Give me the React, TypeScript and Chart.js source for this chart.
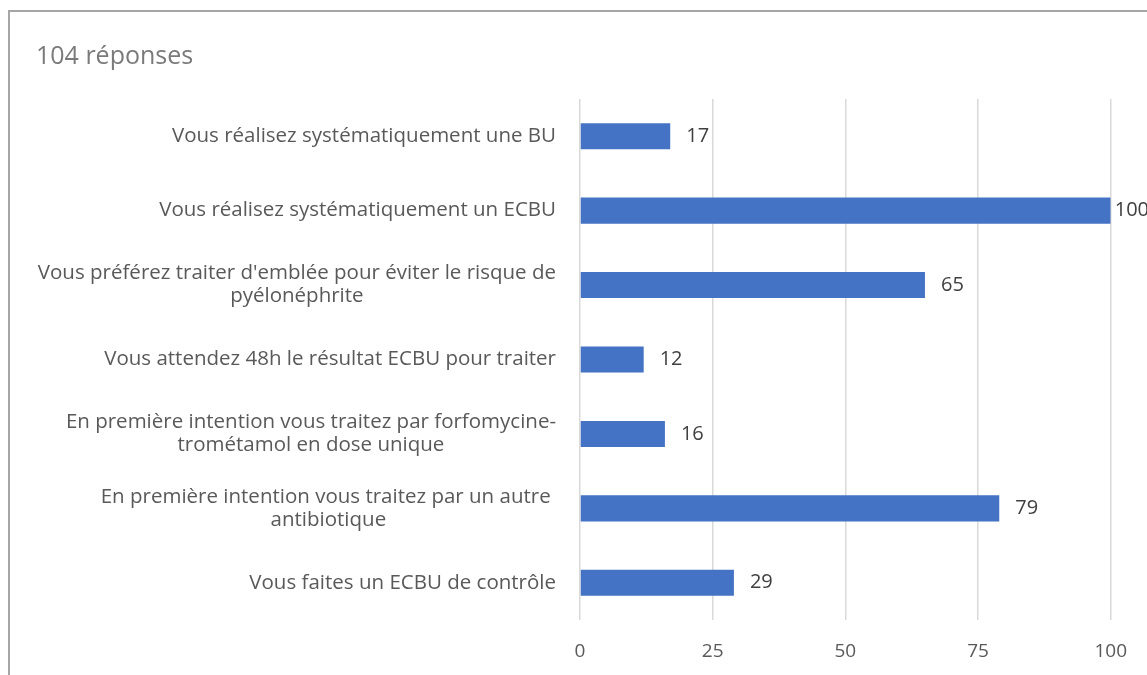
import React, { useEffect, useRef } from "react";
import { Chart, registerables } from "chart.js";

Chart.register(...registerables);

const TITLE = "104 réponses";

const categories: string[][] = [
  ["Vous réalisez systématiquement une BU"],
  ["Vous réalisez systématiquement un ECBU"],
  ["Vous préférez traiter d'emblée pour éviter le risque de", "pyélonéphrite"],
  ["Vous attendez 48h le résultat ECBU pour traiter"],
  ["En première intention vous traitez par forfomycine-", "trométamol en dose unique"],
  ["En première intention vous traitez par un autre ", "antibiotique"],
  ["Vous faites un ECBU de contrôle"],
];

const values: number[] = [17, 100, 65, 12, 16, 79, 29];

const xMin = 0;
const xMax = 100;
const xStep = 25;

const FONT = "'Open Sans', sans-serif";

const labelsPlugin = {
  id: "customLabels",
  afterDraw(chart: any) {
    const ctx = chart.ctx as CanvasRenderingContext2D;
    const yScale = chart.scales.y;
    const xScale = chart.scales.x;
    ctx.save();
    // title
    ctx.font = `25px ${FONT}`;
    ctx.fillStyle = "#7a7a7a";
    ctx.textAlign = "left";
    ctx.textBaseline = "middle";
    ctx.fillText(TITLE, 36, 57);

    // category labels
    ctx.font = `20.5px ${FONT}`;
    ctx.fillStyle = "#595959";
    ctx.textAlign = "center";
    const lineH = 23;
    const rightEdge = xScale.left - 24;
    categories.forEach((lines, i) => {
      const y = yScale.getPixelForValue(i);
      const widest = Math.max(...lines.map((l) => ctx.measureText(l).width));
      const cx = rightEdge - widest / 2;
      lines.forEach((l, j) => {
        ctx.fillText(l, cx, y + (j - (lines.length - 1) / 2) * lineH);
      });
    });

    // value labels
    ctx.font = `20px ${FONT}`;
    ctx.fillStyle = "#404040";
    ctx.textAlign = "left";
    const maxX = xScale.right + 4;
    values.forEach((v, i) => {
      const y = yScale.getPixelForValue(i);
      const x = Math.min(xScale.getPixelForValue(v) + 16, maxX);
      ctx.fillText(String(v), x, y);
    });
    ctx.restore();
  },
};

export default function App() {
  const ref = useRef<HTMLCanvasElement | null>(null);
  useEffect(() => {
    if (!ref.current) return;
    const chart = new Chart(ref.current, {
      type: "bar",
      data: {
        labels: categories.map((c) => c.join(" ")),
        datasets: [
          {
            data: values,
            backgroundColor: "#4472C4",
            borderWidth: 0,
            categoryPercentage: 1,
            barPercentage: 0.35,
          },
        ],
      },
      options: {
        indexAxis: "y",
        animation: false,
        responsive: false,
        maintainAspectRatio: false,
        devicePixelRatio: 1,
        layout: { padding: { left: 580, right: 35, top: 99, bottom: 0 } },
        plugins: {
          legend: { display: false },
          tooltip: { enabled: false },
          title: { display: false },
        },
        scales: {
          x: {
            min: xMin,
            max: xMax,
            ticks: {
              stepSize: xStep,
              color: "#595959",
              font: { family: FONT, size: 19, lineHeight: 1.2 },
              padding: 20,
            },
            grid: { color: "#d9d9d9", lineWidth: 1.5, drawTicks: false },
            border: { display: false },
            afterFit: (scale: any) => {
              scale.height = 55;
            },
          },
          y: {
            display: false,
          },
        },
      },
      plugins: [labelsPlugin],
    });
    return () => chart.destroy();
  }, []);
  return (
    <div style={{ position: "fixed", left: 0, top: 0, width: 1147, height: 675, background: "#fff", overflow: "hidden" }}>
      <div
        style={{
          position: "absolute",
          left: 8,
          top: 10,
          width: 2000,
          height: 2000,
          borderLeft: "2px solid #a6a6a6",
          borderTop: "2px solid #a6a6a6",
        }}
      />
      <canvas ref={ref} width={1147} height={675} style={{ position: "absolute", left: 0, top: 0 }} />
    </div>
  );
}
